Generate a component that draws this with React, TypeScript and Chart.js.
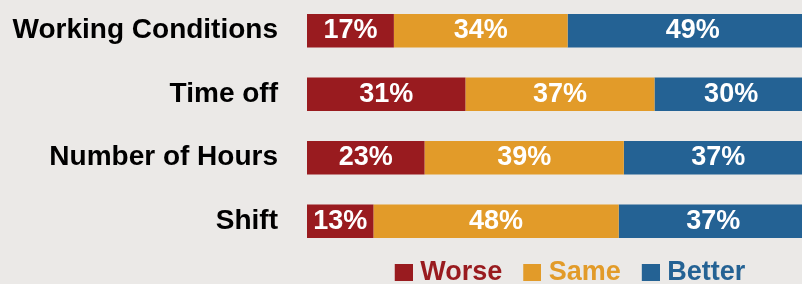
import { useEffect, useRef } from 'react';
import { Chart, registerables } from 'chart.js';

Chart.register(...registerables);

const categories = ['Working Conditions', 'Time off', 'Number of Hours', 'Shift'];
const seriesNames = ['Worse', 'Same', 'Better'];
const worse = [17, 31, 23, 13];
const same = [34, 37, 39, 48];
const better = [49, 30, 37, 37];

const COLORS = ['#991b1f', '#e29b29', '#246294'];
const BG = '#ebe9e7';
const FONT = '"Liberation Sans", Arial, sans-serif';

function legendSwatch(color: string) {
  const c = document.createElement('canvas');
  c.width = 39;
  c.height = 17;
  const g = c.getContext('2d')!;
  g.fillStyle = color;
  g.fillRect(21, 0, 18, 17);
  return c;
}

const valueLabels = {
  id: 'valueLabels',
  afterDatasetsDraw(chart: any) {
    const ctx = chart.ctx;
    ctx.save();
    ctx.font = `bold 27px ${FONT}`;
    ctx.fillStyle = '#ffffff';
    ctx.textAlign = 'center';
    ctx.textBaseline = 'middle';
    chart.data.datasets.forEach((ds: any, di: number) => {
      const meta = chart.getDatasetMeta(di);
      meta.data.forEach((el: any, i: number) => {
        const { x, y, base } = el.getProps(['x', 'y', 'base'], true);
        ctx.fillText(`${ds.data[i]}%`, (x + base) / 2, y);
      });
    });
    ctx.restore();
  },
};

export default function App() {
  const ref = useRef<HTMLCanvasElement>(null);

  useEffect(() => {
    if (!ref.current) return;
    const values = [worse, same, better];
    const chart = new Chart(ref.current, {
      type: 'bar',
      data: {
        labels: categories,
        datasets: seriesNames.map((name, i) => ({
          label: name,
          data: values[i],
          backgroundColor: COLORS[i],
          borderWidth: 0,
          barPercentage: 0.53,
          categoryPercentage: 1,
        })),
      },
      options: {
        indexAxis: 'y',
        responsive: false,
        animation: false,
        layout: { padding: 0 },
        scales: {
          x: { stacked: true, min: 0, max: 100, display: false },
          y: {
            stacked: true,
            grid: { display: false, drawTicks: false },
            border: { display: false },
            ticks: {
              color: '#000000',
              padding: 29,
              font: { family: FONT, size: 28, weight: 'bold' },
            },
            afterFit: (s: any) => {
              s.width = 307;
              s.paddingTop = 0;
              s.paddingBottom = 0;
            },
          },
        },
        plugins: {
          legend: {
            position: 'bottom',
            fullSize: false,
            align: 'center',
            labels: {
              usePointStyle: true,
              pointStyleWidth: 27,
              boxHeight: 17,
              padding: 6,
              font: { family: FONT, size: 27, weight: 'bold' },
              generateLabels: (c: any) =>
                (Chart.defaults.plugins.legend.labels as any)
                  .generateLabels(c)
                  .map((it: any) => ({
                    ...it,
                    pointStyle: legendSwatch(COLORS[it.datasetIndex]),
                    fontColor: COLORS[it.datasetIndex],
                    lineWidth: 0,
                  })),
            },
          },
          tooltip: { enabled: false },
        },
      },
      plugins: [valueLabels],
    } as any);
    return () => chart.destroy();
  }, []);

  return (
    <div
      style={{
        position: 'fixed',
        left: 0,
        top: 0,
        width: 802,
        height: 284,
        overflow: 'hidden',
        background: BG,
      }}
    >
      <canvas
        ref={ref}
        width={818}
        height={297}
        style={{ position: 'absolute', left: 0, top: -1 }}
      />
    </div>
  );
}
